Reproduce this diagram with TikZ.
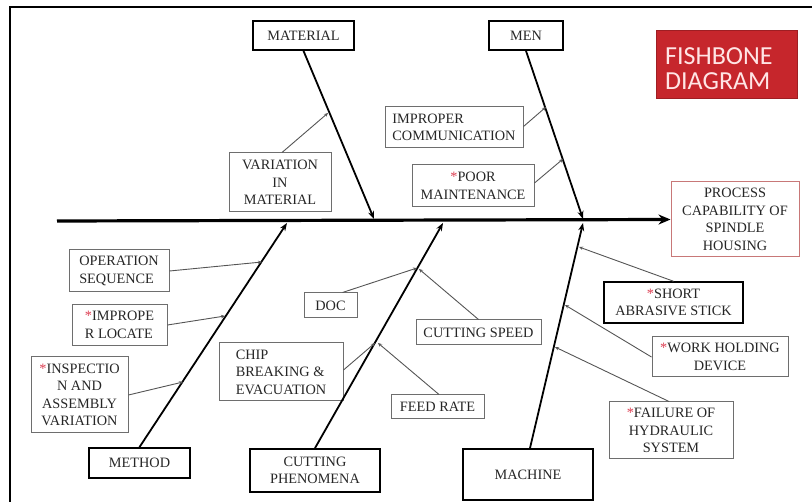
\documentclass[tikz,border=0pt]{standalone}
\usepackage{fontspec}
\setmainfont{Liberation Serif}
\newfontfamily\titlefont{Carlito}
\usetikzlibrary{arrows.meta,calc}
\definecolor{astred}{RGB}{220,60,80}
\definecolor{boxgray}{RGB}{110,110,110}
\definecolor{linkgray}{RGB}{85,85,85}
\definecolor{titlered}{RGB}{198,38,44}
\definecolor{effectred}{RGB}{200,120,120}
\newcommand{\rast}{\textcolor{astred}{*}}
\begin{document}
\begin{tikzpicture}[x=1pt,y=-1pt,
  every node/.style={font=\fontsize{14.3}{17.5}\selectfont, text=black!85, inner sep=2pt},
  causebox/.style={draw=boxgray, line width=1pt, align=center},
  catbox/.style={draw=black, line width=1.8pt, align=center},
  bone/.style={line width=1.8pt, -{Stealth[length=8pt,width=6pt]}},
  twig/.style={draw=linkgray, line width=0.9pt, -{Stealth[length=4pt,width=3.5pt]}},
]
\useasboundingbox (0,0) rectangle (812,502);
% frame
\draw[line width=2pt] (9.5,505) -- (9.5,7.5) -- (815,7.5);

% category boxes
\node[catbox, minimum width=101pt, minimum height=29pt] (mat) at (303.5,35.5) {MATERIAL};
\node[catbox, minimum width=74pt, minimum height=29pt] (men) at (526,35.5) {MEN};
\node[catbox, minimum width=101pt, minimum height=30pt] (meth) at (139.5,463) {METHOD};
\node[catbox, minimum width=130pt, minimum height=43pt] (cut) at (315,470.5) {CUTTING\\PHENOMENA};
\node[catbox, minimum width=130pt, minimum height=51pt] (mach) at (528,474.5) {MACHINE};

% title
\node[fill=titlered, draw=titlered!80!black, line width=0.6pt, minimum width=141pt, minimum height=68pt] (title) at (726.5,64) {};
\node[text=white!90!red, font=\titlefont\fontsize{26}{25}\selectfont, align=left, anchor=west, inner sep=0pt] (titletext) at (665,69) {FISHBONE\\DIAGRAM};

% effect
\node[draw=effectred, line width=1pt, minimum width=128pt, minimum height=75pt, align=center] (eff) at (735,219.5) {PROCESS\\CAPABILITY OF\\SPINDLE\\HOUSING};

% cause boxes
\node[causebox, minimum width=102pt, minimum height=59pt] (varmat) at (280,182.5) {VARIATION\\IN\\MATERIAL};
\node[causebox, minimum width=138pt, minimum height=41pt, align=left] (impcomm) at (454,127.5) {IMPROPER\\COMMUNICATION};
\node[causebox, minimum width=122pt, minimum height=42pt] (poor) at (473,186) {\rast POOR\\MAINTENANCE};
\node[causebox, minimum width=100pt, minimum height=42pt, align=left] (opseq) at (119,271) {OPERATION\\SEQUENCE};
\node[causebox, minimum width=95pt, minimum height=41pt, align=left] (improp) at (119.5,325) {\rast IMPROPE\\R LOCATE};
\node[causebox, minimum width=97pt, minimum height=76pt] (insp) at (79.5,395) {\rast INSPECTIO\\N AND\\ASSEMBLY\\VARIATION};
\node[causebox, minimum width=53pt, minimum height=25pt] (doc) at (330.5,305.5) {DOC};
\node[causebox, minimum width=124pt, minimum height=58pt, align=left] (chip) at (281,372) {CHIP\\BREAKING \&\\EVACUATION};
\node[causebox, minimum width=125pt, minimum height=25pt] (cspeed) at (478.5,332.5) {CUTTING SPEED};
\node[causebox, minimum width=93pt, minimum height=24pt] (feed) at (437.5,407) {FEED RATE};
\node[catbox, line width=1.5pt, minimum width=139pt, minimum height=41pt] (short) at (673.5,302.5) {\rast SHORT\\ABRASIVE STICK};
\node[causebox, minimum width=136pt, minimum height=40pt] (work) at (720,357) {\rast WORK HOLDING\\DEVICE};
\node[causebox, minimum width=124pt, minimum height=57pt] (fail) at (671,430.5) {\rast FAILURE OF\\HYDRAULIC\\SYSTEM};

% spine
\coordinate (tail) at (57,221);
\draw[line width=3.2pt, -{Stealth[length=12pt,width=10pt]}] (tail) -- (eff.west);

% bone end points on the spine
\coordinate (matT) at (374,219);
\coordinate (menT) at (583,219);
\coordinate (methT) at (287,223);
\coordinate (cutT) at (443,223);
\coordinate (machT) at (583,223);

% bones
\draw[bone] (mat.south) -- (matT);
\draw[bone] (men.south) -- (menT);
\draw[bone] (meth.north) -- (methT);
\draw[bone] (cut.north) -- (cutT);
\draw[bone] ($(mach.north)+(2,0)$) -- (machT);

% attach points on the bones
\coordinate (a1) at (328,113);
\coordinate (a2) at (546,107);
\coordinate (a3) at (563,159);
\coordinate (a4) at (262,262);
\coordinate (a5) at (225,316);
\coordinate (a6) at (183,382);
\coordinate (a7) at (417,268);
\coordinate (a8) at (419,269);
\coordinate (a9) at (375,343);
\coordinate (a10) at (378,343);
\coordinate (a11) at (579,247);
\coordinate (a12) at (565,305);
\coordinate (a13) at (555,347);

% twigs
\draw[twig] ($(varmat.north)+(2,0)$) -- (a1);
\draw[twig] ($(impcomm.east)+(0,-1)$) -- (a2);
\draw[twig] ($(poor.east)+(0,-3)$) -- (a3);
\draw[twig] (opseq.east) -- (a4);
\draw[twig] (improp.east) -- (a5);
\draw[twig] (insp.east) -- (a6);
\draw[twig] ($(doc.north)+(12,0)$) -- (a7);
\draw[twig] (cspeed.north) -- (a8);
\draw[twig] ($(chip.east)+(0,-2)$) -- (a9);
\draw[twig] ($(feed.north)+(1.5,0)$) -- (a10);
\draw[twig] (short.north) -- (a11);
\draw[twig] (work.west) -- (a12);
\draw[twig] ($(fail.north)+(-2,0)$) -- (a13);
\end{tikzpicture}
\end{document}
